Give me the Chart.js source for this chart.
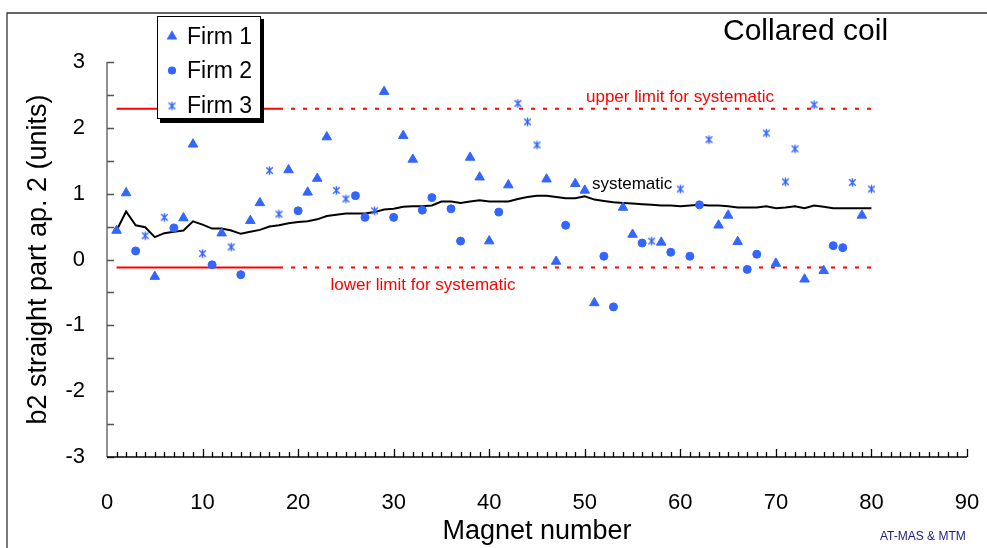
<!DOCTYPE html>
<html>
<head>
<meta charset="utf-8">
<script src="https://cdn.jsdelivr.net/npm/chart.js@4/dist/chart.umd.min.js"></script>
<style>
  html, body { margin: 0; padding: 0; background: #fff; }
  #dash { display: block; }
</style>
</head>
<body>
<canvas id="dash" width="987" height="548"></canvas>
<script>
// magnet numbers and b2 values
const firm1Magnets = [1, 2, 5, 8, 9, 12, 15, 16, 19, 21, 22, 23, 29, 31, 32, 38, 39, 40, 42, 46, 47, 49, 50, 51, 54, 55, 58, 64, 65, 66, 70, 73, 75, 79];
const firm1Values = [0.44, 1.01, -0.26, 0.63, 1.75, 0.40, 0.59, 0.86, 1.36, 1.02, 1.23, 1.86, 2.55, 1.88, 1.52, 1.55, 1.25, 0.28, 1.13, 1.22, -0.03, 1.15, 1.05, -0.66, 0.79, 0.38, 0.26, 0.52, 0.67, 0.27, -0.06, -0.30, -0.17, 0.67];

const firm2Magnets = [3, 7, 11, 14, 20, 26, 27, 30, 33, 34, 36, 37, 41, 48, 52, 53, 56, 59, 61, 62, 67, 68, 76, 77];
const firm2Values = [0.13, 0.48, -0.08, -0.23, 0.74, 0.97, 0.64, 0.64, 0.75, 0.94, 0.77, 0.28, 0.72, 0.52, 0.05, -0.72, 0.25, 0.11, 0.05, 0.83, -0.15, 0.08, 0.21, 0.18];

const firm3Magnets = [4, 6, 10, 13, 17, 18, 24, 25, 28, 43, 44, 45, 57, 60, 63, 69, 71, 72, 74, 78, 80];
const firm3Values = [0.36, 0.64, 0.09, 0.19, 1.35, 0.69, 1.05, 0.92, 0.74, 2.37, 2.09, 1.74, 0.28, 1.07, 1.82, 1.92, 1.18, 1.68, 2.35, 1.17, 1.07];

// systematic (running) value for magnets 1..80
const systematicValues = [
  0.44, 0.73, 0.52, 0.49, 0.34, 0.40, 0.42, 0.44, 0.58, 0.53,
  0.47, 0.47, 0.44, 0.39, 0.42, 0.45, 0.50, 0.52, 0.55, 0.57,
  0.58, 0.61, 0.66, 0.68, 0.70, 0.70, 0.70, 0.72, 0.76, 0.77,
  0.80, 0.81, 0.81, 0.82, 0.88, 0.88, 0.86, 0.88, 0.90, 0.88,
  0.88, 0.88, 0.92, 0.95, 0.97, 0.97, 0.95, 0.93, 0.93, 0.96,
  0.91, 0.89, 0.87, 0.86, 0.85, 0.84, 0.83, 0.82, 0.82, 0.81,
  0.82, 0.83, 0.82, 0.82, 0.81, 0.79, 0.79, 0.79, 0.81, 0.78,
  0.79, 0.81, 0.78, 0.82, 0.80, 0.78, 0.78, 0.78, 0.78, 0.78
];

const limitMagnets = [1, 18, 80];
const upperLimit = 2.29;
const lowerLimit = -0.12;

const xTicks = [0, 10, 20, 30, 40, 50, 60, 70, 80, 90];
const yTicks = [-3, -2, -1, 0, 1, 2, 3];

const legendLabels = ['Firm 1', 'Firm 2', 'Firm 3'];

const FONT = '"Liberation Sans", Arial, sans-serif';
const BLUE = '#3366ff';

function pairs(xs, ys) {
  return xs.map(function (x, i) { return { x: x, y: ys[i] }; });
}

let sysData = systematicValues.map(function (v, i) { return { x: i + 1, y: v }; });

function limitData(v) {
  return limitMagnets.map(function (m) { return { x: m, y: v }; });
}

let dashAfter = function (ctx) {
  return ctx.p0.parsed.x >= 18 ? [4, 8] : undefined;
};

// excel style star marker: an X with a vertical bar
function makeStar(size) {
  let cv = document.createElement('canvas');
  cv.width = size;
  cv.height = size;
  let g = cv.getContext('2d');
  let h = size / 2;
  g.strokeStyle = BLUE;
  g.lineWidth = 1.4;
  g.beginPath();
  g.moveTo(h - 3.3, h - 3.3);
  g.lineTo(h + 3.3, h + 3.3);
  g.moveTo(h + 3.3, h - 3.3);
  g.lineTo(h - 3.3, h + 3.3);
  g.moveTo(h, h - 4.3);
  g.lineTo(h, h + 4.3);
  g.stroke();
  return cv;
}
let starImg = makeStar(11);

let decor = {
  id: 'decor',
  beforeDraw: function (chart) {
    let c = chart.ctx;
    c.save();
    c.fillStyle = '#fff';
    c.fillRect(0, 0, chart.width, chart.height);
    // outer frame of the figure
    c.strokeStyle = '#333';
    c.lineWidth = 1.3;
    c.beginPath();
    c.moveTo(7, 548);
    c.lineTo(7, 13);
    c.lineTo(987, 13);
    c.stroke();
    c.restore();
  },
  afterDatasetsDraw: function (chart) {
    let c = chart.ctx;
    let xs = chart.scales.x;
    let ys = chart.scales.y;
    let a = chart.chartArea;
    c.save();

    // y axis with ticks every 0.5
    c.strokeStyle = '#555';
    c.lineWidth = 1.3;
    c.beginPath();
    c.moveTo(a.left, a.top);
    c.lineTo(a.left, a.bottom);
    for (let v = -3; v <= 3.001; v += 0.5) {
      let py = Math.round(ys.getPixelForValue(v)) + 0.5;
      c.moveTo(a.left, py);
      c.lineTo(a.left + 7, py);
    }
    c.stroke();

    // x axis with minor ticks every magnet
    c.strokeStyle = '#000';
    c.beginPath();
    c.moveTo(a.left, a.bottom);
    c.lineTo(a.right, a.bottom);
    for (let m = 1; m <= 90; m++) {
      let px = Math.round(xs.getPixelForValue(m)) + 0.5;
      c.moveTo(px, a.bottom);
      c.lineTo(px, a.bottom - (m % 10 === 0 ? 8 : 5));
    }
    c.stroke();

    // annotations
    c.fillStyle = '#ff0000';
    c.font = '17px ' + FONT;
    c.textAlign = 'center';
    c.textBaseline = 'middle';
    c.fillText('upper limit for systematic', 680, 97);
    c.fillText('lower limit for systematic', 423, 285);
    c.fillStyle = '#000';
    c.textAlign = 'left';
    c.fillText('systematic', 592, 184);

    c.font = '30px ' + FONT;
    c.fillText('Collared coil', 723, 32);

    c.fillStyle = '#1a1a80';
    c.font = '12px ' + FONT;
    c.fillText('AT-MAS & MTM', 880, 537);

    // legend box with shadow
    c.fillStyle = '#000';
    c.fillRect(160, 19, 104, 104);
    c.fillStyle = '#fff';
    c.fillRect(157, 16, 104, 103);
    c.strokeStyle = '#000';
    c.lineWidth = 1;
    c.strokeRect(157.5, 16.5, 103, 102);

    let styles = ['triangle', 'circle', starImg];
    let rows = [36.5, 70.5, 106];
    c.fillStyle = BLUE;
    c.strokeStyle = BLUE;
    c.lineWidth = 1.2;
    for (let i = 0; i < 3; i++) {
      Chart.helpers.drawPoint(c, {
        pointStyle: styles[i],
        radius: i === 0 ? 5 : 3.5,
        borderWidth: 1.2
      }, 172, rows[i]);
    }
    c.fillStyle = '#000';
    c.font = '23px ' + FONT;
    c.textAlign = 'left';
    c.textBaseline = 'middle';
    for (let i = 0; i < 3; i++) {
      c.fillText(legendLabels[i], 187, rows[i] + 1);
    }
    c.restore();
  }
};

let ctxDash = document.getElementById('dash');

let grafico = new Chart(ctxDash, {
  type: 'scatter',
  data: {
    datasets: [
      {
        label: 'upper',
        type: 'line',
        data: limitData(upperLimit),
        borderColor: '#ff0000',
        borderWidth: 2,
        pointRadius: 0,
        segment: { borderDash: dashAfter },
        order: 10
      },
      {
        label: 'lower',
        type: 'line',
        data: limitData(lowerLimit),
        borderColor: '#ff0000',
        borderWidth: 2,
        pointRadius: 0,
        segment: { borderDash: dashAfter },
        order: 9
      },
      {
        label: 'systematic',
        type: 'line',
        data: sysData,
        borderColor: '#000',
        borderWidth: 2,
        pointRadius: 0,
        tension: 0,
        order: 8
      },
      {
        label: legendLabels[0],
        data: pairs(firm1Magnets, firm1Values),
        pointStyle: 'triangle',
        pointRadius: 5.5,
        backgroundColor: BLUE,
        borderColor: BLUE,
        borderWidth: 1,
        order: 3
      },
      {
        label: legendLabels[1],
        data: pairs(firm2Magnets, firm2Values),
        pointStyle: 'circle',
        pointRadius: 4,
        backgroundColor: BLUE,
        borderColor: BLUE,
        borderWidth: 1,
        order: 2
      },
      {
        label: legendLabels[2],
        data: pairs(firm3Magnets, firm3Values),
        pointStyle: starImg,
        pointRadius: 5,
        backgroundColor: BLUE,
        borderColor: BLUE,
        borderWidth: 1.4,
        order: 1
      }
    ]
  },
  options: {
    responsive: false,
    animation: false,
    layout: { padding: { left: 0, top: 62, right: 20, bottom: 0 } },
    plugins: {
      legend: { display: false },
      tooltip: { enabled: false }
    },
    scales: {
      x: {
        type: 'linear',
        min: 0,
        max: 90,
        afterFit: function (s) {
          s.height = 91;
          s.paddingLeft = 0;
          s.paddingRight = 0;
        },
        afterBuildTicks: function (s) { s.ticks = xTicks.map(function (v) { return { value: v }; }); },
        grid: { display: false, drawTicks: false },
        border: { display: false },
        ticks: {
          color: '#000',
          padding: 33,
          maxRotation: 0,
          font: { family: FONT, size: 22 }
        },
        title: {
          display: true,
          text: 'Magnet number',
          color: '#000',
          font: { family: FONT, size: 27 },
          padding: { top: 0, bottom: 0 }
        }
      },
      y: {
        type: 'linear',
        min: -3,
        max: 3,
        afterFit: function (s) {
          s.width = 107;
          s.paddingTop = 0;
          s.paddingBottom = 0;
        },
        afterBuildTicks: function (s) { s.ticks = yTicks.map(function (v) { return { value: v }; }); },
        grid: { display: false, drawTicks: false },
        border: { display: false },
        ticks: {
          color: '#000',
          padding: 22,
          font: { family: FONT, size: 22 }
        },
        title: {
          display: true,
          text: 'b2 straight part ap. 2 (units)',
          color: '#000',
          font: { family: FONT, size: 27 },
          padding: { top: 22, bottom: 0 }
        }
      }
    }
  },
  plugins: [decor]
});
</script>
</body>
</html>
